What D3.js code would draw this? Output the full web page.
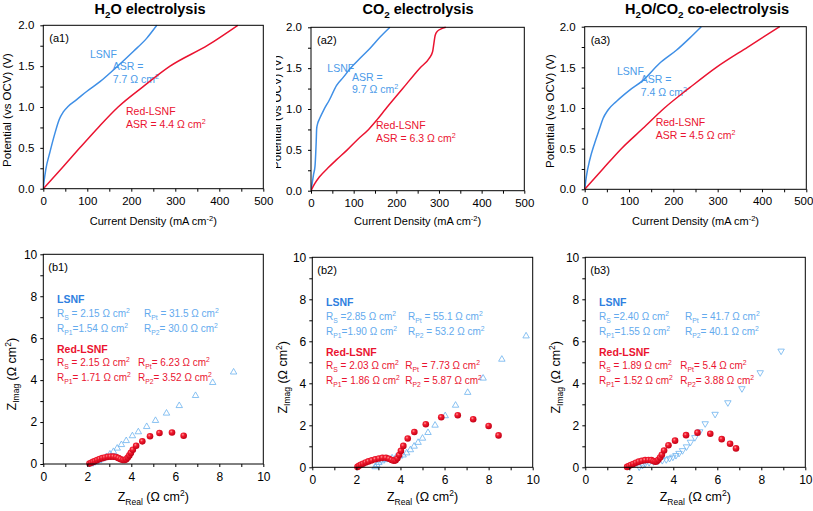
<!DOCTYPE html>
<html><head><meta charset="utf-8">
<script src="https://cdn.jsdelivr.net/npm/d3@7"></script>
<style>
body{margin:0;background:#fff}
svg{display:block}
text{font-family:"Liberation Sans",Arial,sans-serif}
</style>
</head><body>
<svg id="c" width="813" height="511"></svg>
<script>
// ---------- DATA ----------
const titles = ["H_{2}O electrolysis", "CO_{2} electrolysis", "H_{2}O/CO_{2} co-electrolysis"];
const currentTicks = [0, 50, 100, 150, 200, 250, 300, 350, 400, 450, 500];
const currentLabels = [0, 100, 200, 300, 400, 500];
const potentialTicks = [0, 0.25, 0.5, 0.75, 1, 1.25, 1.5, 1.75, 2];
const potentialLabels = [0, 0.5, 1, 1.5, 2];
const zTicks = [0, 1, 2, 3, 4, 5, 6, 7, 8, 9, 10];
const zLabels = [0, 2, 4, 6, 8, 10];

// polarization curves [current density mA/cm2, potential V]
const a1Lsnf = [[0,0],[2,0.1],[5.5,0.23],[15.2,0.45],[26.5,0.68],[36.4,0.85],[45.5,0.94],[56.8,1.01],[75.8,1.09],[98.5,1.19],[128.8,1.31],[166.7,1.49],[204.5,1.68],[234.8,1.84],[258,2.0]];
const a1Red  = [[0,0],[42,0.25],[83,0.5],[125,0.75],[170,1.0],[227,1.25],[288,1.5],[375,1.76],[442,2.0]];
const a2Lsnf = [[0,0],[3,0.1],[6,0.2],[9.4,0.3],[11,0.45],[12.2,0.6],[13.3,0.76],[15.5,0.82],[20,0.88],[30,0.99],[43,1.11],[60,1.29],[76,1.39],[91,1.49],[115,1.62],[138,1.74],[162,1.88],[185,2.0]];
const a2Red  = [[0,0],[8,0.08],[20,0.17],[40,0.28],[60,0.38],[85,0.5],[110,0.63],[135,0.75],[155,0.87],[175,1.0],[215,1.25],[255,1.5],[277,1.62],[285,1.7],[288,1.8],[291,1.9],[296,1.95],[305,1.98],[316,2.0]];
const a3Lsnf = [[0,0],[3.8,0.16],[11.3,0.36],[22.6,0.57],[33.8,0.75],[41.4,0.87],[52.6,0.975],[71.4,1.08],[101.5,1.22],[131.6,1.34],[169,1.55],[206.8,1.71],[236.8,1.86],[263,2.0]];
const a3Red  = [[0,0],[41,0.25],[82.7,0.5],[131.6,0.75],[180,1.0],[237,1.25],[297,1.5],[368,1.75],[440,2.0]];

// impedance spectra [Z real, Z imag] (ohm cm2)
const b1Lsnf = [[2.15,0.0],[2.25,0.05],[2.38,0.10],[2.52,0.16],[2.68,0.24],[2.86,0.34],[3.03,0.47],[3.19,0.59],[3.36,0.75],[3.55,0.92],[3.77,1.11],[4.05,1.34],[4.32,1.53],[4.70,1.78],[5.10,2.07],[5.60,2.42],[6.18,2.78],[6.92,3.26],[7.70,3.88],[8.65,4.38]];
const b1Red  = [[2.10,0.02],[2.18,0.06],[2.26,0.10],[2.35,0.14],[2.45,0.19],[2.56,0.24],[2.68,0.28],[2.80,0.31],[2.93,0.34],[3.06,0.35],[3.19,0.35],[3.31,0.33],[3.42,0.28],[3.52,0.23],[3.62,0.19],[3.70,0.19],[3.77,0.23],[3.84,0.31],[3.91,0.41],[3.98,0.53],[4.07,0.68],[4.22,0.87],[4.50,1.08],[4.85,1.32],[5.28,1.48],[5.85,1.50],[6.38,1.35]];
const b2Lsnf = [[2.85,0.02],[2.93,0.12],[3.02,0.22],[3.15,0.30],[3.30,0.36],[3.45,0.40],[3.62,0.44],[3.80,0.48],[3.97,0.53],[4.12,0.58],[4.28,0.68],[4.45,0.83],[4.62,1.00],[4.80,1.18],[5.00,1.38],[5.25,1.65],[5.57,2.00],[6.03,2.45],[6.50,2.95],[7.05,3.56],[7.75,4.24],[8.60,5.14],[9.70,6.25]];
const b2Red  = [[2.05,0.02],[2.12,0.07],[2.20,0.12],[2.30,0.17],[2.42,0.23],[2.55,0.28],[2.70,0.33],[2.86,0.38],[3.02,0.42],[3.18,0.45],[3.34,0.45],[3.48,0.41],[3.60,0.35],[3.70,0.31],[3.78,0.33],[3.86,0.43],[3.94,0.58],[4.02,0.78],[4.13,1.02],[4.33,1.37],[4.63,1.68],[5.15,2.05],[5.85,2.38],[6.60,2.48],[7.30,2.29],[8.00,1.97],[8.45,1.52]];
const b3Lsnf = [[2.45,0.02],[2.60,0.10],[2.72,0.18],[2.90,0.23],[3.10,0.27],[3.30,0.30],[3.50,0.33],[3.68,0.37],[3.83,0.43],[3.98,0.49],[4.12,0.57],[4.26,0.67],[4.42,0.80],[4.60,0.98],[4.78,1.20],[4.98,1.42],[5.20,1.70],[5.45,2.08],[5.90,2.53],[6.48,3.08],[7.12,3.75],[7.95,4.51],[8.90,5.54]];
const b3Red  = [[1.90,0.02],[1.98,0.06],[2.07,0.11],[2.18,0.16],[2.30,0.22],[2.43,0.27],[2.57,0.31],[2.72,0.34],[2.87,0.35],[3.00,0.34],[3.10,0.30],[3.18,0.27],[3.25,0.29],[3.32,0.36],[3.40,0.47],[3.48,0.60],[3.58,0.80],[3.78,1.05],[4.08,1.27],[4.58,1.53],[5.10,1.65],[5.68,1.60],[6.20,1.34],[6.58,1.12],[6.85,0.90]];

// annotation texts
const asrLsnf = ["7.7 Ω cm^{2}", "9.7 Ω cm^{2}", "7.4 Ω cm^{2}"];
const asrRed  = ["ASR = 4.4 Ω cm^{2}", "ASR = 6.3 Ω cm^{2}", "ASR = 4.5 Ω cm^{2}"];
const panelTagsTop = ["(a1)", "(a2)", "(a3)"];
const panelTagsBot = ["(b1)", "(b2)", "(b3)"];
const lsnfRes = [
  ["R_{S} = 2.15 Ω cm^{2}", "R_{Pt} = 31.5 Ω cm^{2}", "R_{P1}=1.54 Ω cm^{2}", "R_{P2}= 30.0 Ω cm^{2}"],
  ["R_{S} =2.85 Ω cm^{2}", "R_{Pt} = 55.1 Ω cm^{2}", "R_{P1}=1.90 Ω cm^{2}", "R_{P2} = 53.2 Ω cm^{2}"],
  ["R_{S} =2.40 Ω cm^{2}", "R_{Pt} = 41.7 Ω cm^{2}", "R_{P1}=1.55 Ω cm^{2}", "R_{P2}= 40.1 Ω cm^{2}"]
];
const redRes = [
  ["R_{S} = 2.15 Ω cm^{2}", "R_{Pt}= 6.23 Ω cm^{2}", "R_{P1}= 1.71 Ω cm^{2}", "R_{P2}= 3.52 Ω cm^{2}"],
  ["R_{S} = 2.03 Ω cm^{2}", "R_{Pt} = 7.73 Ω cm^{2}", "R_{P1}= 1.86 Ω cm^{2}", "R_{P2} = 5.87 Ω cm^{2}"],
  ["R_{S} = 1.89 Ω cm^{2}", "R_{Pt}= 5.4 Ω cm^{2}", "R_{P1}= 1.52 Ω cm^{2}", "R_{P2}= 3.88 Ω cm^{2}"]
];

// ---------- STYLE ----------
const BLUE = "#3f8fe6", BLUE_TXT = "#4b9be9", BLUE_BOLD = "#2f80e0", BLUE_LIGHT = "#63aaee", TRI = "#6cb3ef";
const RED = "#ea1330";
const svg = d3.select("#c");
const defs = svg.append("defs");
const g0 = defs.append("radialGradient").attr("id","ball").attr("cx","38%").attr("cy","35%").attr("r","65%");
g0.append("stop").attr("offset","0%").attr("stop-color","#ff9a9a");
g0.append("stop").attr("offset","35%").attr("stop-color","#f31c30");
g0.append("stop").attr("offset","100%").attr("stop-color","#c20015");

function rich(sel, str, fs) {
  const re = /([_^])\{([^}]*)\}|([^_^]+)/g; let m, shift = 0;
  while ((m = re.exec(str))) {
    let t, target, size;
    if (m[1]) { t = m[2]; target = m[1] === "_" ? fs * 0.28 : -fs * 0.4; size = fs * 0.68; }
    else { t = m[3]; target = 0; size = fs; }
    sel.append("tspan").attr("dy", (target - shift).toFixed(2)).attr("font-size", size).text(t);
    shift = target;
  }
  return sel;
}
function txt(x, y, str, fs, color, opts = {}) {
  const parent = opts.clip ? svg.append("g").attr("clip-path", opts.clip) : svg;
  const t = parent.append("text").attr("x", x).attr("y", y).attr("fill", color || "#000")
    .attr("font-size", fs).attr("font-weight", opts.bold ? "bold" : null)
    .attr("text-anchor", opts.anchor || "start");
  if (opts.rotate) t.attr("transform", `rotate(-90,${x},${y})`);
  return rich(t, str, fs);
}

function frame(box, x, y, xt, xl, yt, yl, fs, xpad, ypad, yfmt) {
  const g = svg.append("g");
  g.append("g").attr("transform", `translate(0,${box.b})`)
    .call(d3.axisBottom(x).tickValues(xt).tickSize(3).tickSizeOuter(0).tickPadding(xpad)
      .tickFormat(d => xl.includes(d) ? d3.format("d")(d) : ""))
    .call(a => a.select(".domain").remove());
  g.append("g").attr("transform", `translate(${box.l},0)`)
    .call(d3.axisLeft(y).tickValues(yt).tickSize(3).tickSizeOuter(0).tickPadding(ypad)
      .tickFormat(d => yl.includes(d) ? yfmt(d) : ""))
    .call(a => a.select(".domain").remove());
  g.selectAll(".tick text").attr("font-size", fs).attr("font-family", '"Liberation Sans",Arial,sans-serif').attr("fill", "#000");
  g.selectAll(".tick line").attr("stroke", "#000");
  g.append("rect").attr("x", box.l).attr("y", box.t).attr("width", box.r - box.l).attr("height", box.b - box.t)
    .attr("fill", "none").attr("stroke", "#000").attr("stroke-width", 1);
  return g;
}

// ---------- TOP PANELS ----------
const topBoxes = [
  {l:43.3, r:263.3, t:25.3, b:188.7},
  {l:311, r:524.3, t:27.3, b:190.7},
  {l:584.7, r:806.3, t:26.7, b:189.3}
];
const topSeries = [[a1Lsnf, a1Red], [a2Lsnf, a2Red], [a3Lsnf, a3Red]];
const titleX = [150, 418, 707];
// annotation offsets relative to box (LSNF, ASR=, value, Red-LSNF, ASR red)
const annTop = [
  [[46.7,32.7],[69.4,44.7],[69.4,57.7],[82.7,89.7],[82.7,102.7]],
  [[16.3,44.4],[41,53.4],[41,66],[65,102],[65,114.4]],
  [[32.3,48.3],[56,56],[56,69],[71,99.3],[71,112.6]]
];
const yLabelX = [11, 281, 554];

defs.append("clipPath").attr("id", "clipA2lab").append("rect").attr("x", 276).attr("y", 0).attr("width", 30).attr("height", 220);

topBoxes.forEach((box, i) => {
  const x = d3.scaleLinear().domain([0, 500]).range([box.l, box.r]);
  const y = d3.scaleLinear().domain([0, 2]).range([box.b, box.t]);
  const cid = "clipTop" + i;
  defs.append("clipPath").attr("id", cid).append("rect").attr("x", box.l).attr("y", box.t - 1).attr("width", box.r - box.l).attr("height", box.b - box.t + 2);
  const line = d3.line().x(d => x(d[0])).y(d => y(d[1])).curve(d3.curveMonotoneX);
  const a = annTop[i];
  txt(box.l + 6, box.t + 17, panelTagsTop[i], 11, "#000");
  txt(box.l + a[0][0], box.t + a[0][1], "LSNF", 10.5, BLUE_TXT);
  txt(box.l + a[1][0], box.t + a[1][1], "ASR =", 10.5, BLUE_TXT);
  txt(box.l + a[2][0], box.t + a[2][1], asrLsnf[i], 10.5, BLUE_TXT);
  txt(box.l + a[3][0], box.t + a[3][1], "Red-LSNF", 10.5, RED);
  txt(box.l + a[4][0], box.t + a[4][1], asrRed[i], 10.5, RED);
  const g = svg.append("g").attr("clip-path", `url(#${cid})`);
  g.append("path").datum(topSeries[i][0]).attr("d", line).attr("fill", "none").attr("stroke", BLUE).attr("stroke-width", 1.5);
  g.append("path").datum(topSeries[i][1]).attr("d", line).attr("fill", "none").attr("stroke", RED).attr("stroke-width", 1.5);
  const fr = frame(box, x, y, currentTicks, currentLabels, potentialTicks, potentialLabels, 11.5, 5, 6, d3.format(".1f"));
  if (i === 2) fr.selectAll(".tick text").filter(d => d === 500).attr("dx", -3);
  txt(titleX[i], 14, titles[i], 14.5, "#000", {bold: true, anchor: "middle"});
  txt((box.l + box.r) / 2, 225, "Current Density (mA cm^{-2})", 11, "#000", {anchor: "middle"});
  txt(yLabelX[i], (box.t + box.b) / 2 + 3, "Potential (vs OCV) (V)", 11.5, "#000",
      {anchor: "middle", rotate: true, clip: i === 1 ? "url(#clipA2lab)" : null});
});

// ---------- BOTTOM PANELS ----------
const botBoxes = [
  {l:43.3, r:263.3, t:254.3, b:464},
  {l:312.3, r:532.7, t:257.3, b:467.3},
  {l:585.3, r:805.3, t:257.3, b:467.3}
];
const botSeries = [[b1Lsnf, b1Red], [b2Lsnf, b2Red], [b3Lsnf, b3Red]];
const col2Lsnf = [100.7, 95.7, 99.7];
const col2Red = [94.7, 93, 95];
const zLabelX = [16, 287, 560];

botBoxes.forEach((box, i) => {
  const x = d3.scaleLinear().domain([0, 10]).range([box.l, box.r]);
  const y = d3.scaleLinear().domain([0, 10]).range([box.b, box.t]);
  const c1 = box.l + 13.7, c2L = box.l + col2Lsnf[i], c2R = box.l + col2Red[i];
  const yy = [48.5, 62.5, 77.5, 98.5, 112, 127].map(v => box.t + v);
  txt(box.l + 5, box.t + 16.5, panelTagsBot[i], 11, "#000");
  txt(c1, yy[0], "LSNF", 10.5, BLUE_BOLD, {bold: true});
  txt(c1, yy[1], lsnfRes[i][0], 10, BLUE_LIGHT);
  txt(c2L, yy[1], lsnfRes[i][1], 10, BLUE_LIGHT);
  txt(c1, yy[2], lsnfRes[i][2], 10, BLUE_LIGHT);
  txt(c2L, yy[2], lsnfRes[i][3], 10, BLUE_LIGHT);
  txt(c1, yy[3], "Red-LSNF", 10.5, RED, {bold: true});
  txt(c1, yy[4], redRes[i][0], 10, RED);
  txt(c2R, yy[4], redRes[i][1], 10, RED);
  txt(c1, yy[5], redRes[i][2], 10, RED);
  txt(c2R, yy[5], redRes[i][3], 10, RED);

  const sym = d3.symbol().type(d3.symbolTriangle).size(18);
  svg.append("g").selectAll("path").data(botSeries[i][0]).join("path")
    .attr("d", sym)
    .attr("transform", d => `translate(${x(d[0])},${y(d[1])})${i === 2 ? " rotate(180)" : ""}`)
    .attr("fill", "none").attr("stroke", TRI).attr("stroke-width", 0.8);
  svg.append("g").selectAll("circle").data(botSeries[i][1]).join("circle")
    .attr("cx", d => x(d[0])).attr("cy", d => y(d[1])).attr("r", 3.3)
    .attr("fill", "url(#ball)");
  frame(box, x, y, zTicks, zLabels, zTicks, zLabels, 12, 5, 3, d3.format("d"));
  txt((box.l + box.r) / 2, 501, "Z_{Real} (Ω cm^{2})", 12.5, "#000", {anchor: "middle"});
  txt(zLabelX[i], (box.t + box.b) / 2 + 15, "Z_{Imag} (Ω cm^{2})", 12.5, "#000", {anchor: "middle", rotate: true});
});
</script>
</body></html>
